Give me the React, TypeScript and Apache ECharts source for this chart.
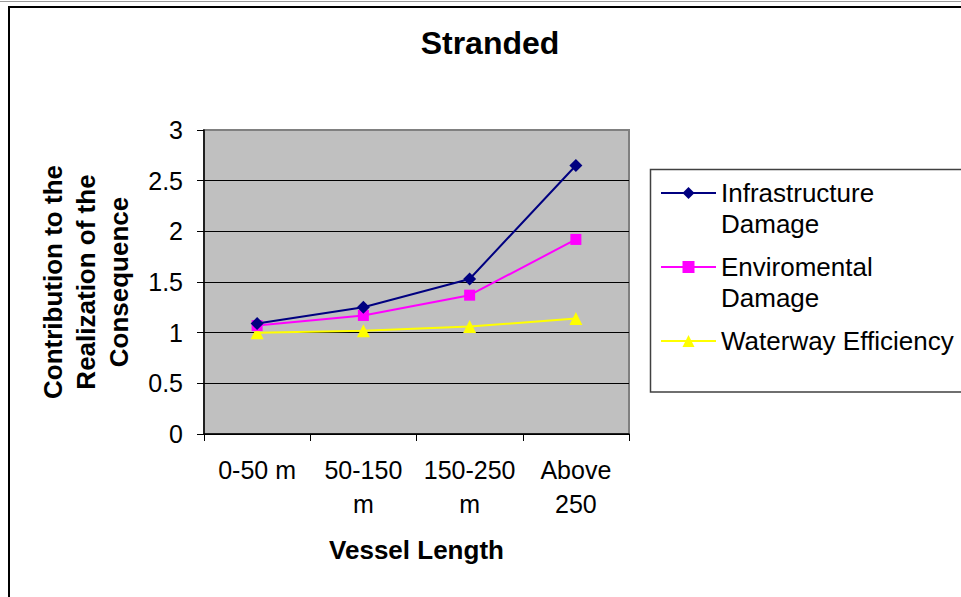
import React, { useEffect, useRef } from "react";
import * as echarts from "echarts";

const titleText = "Stranded";
const categories = ["0-50 m", "50-150\nm", "150-250\nm", "Above\n250"];
const seriesNames = ["Infrastructure\nDamage", "Enviromental\nDamage", "Waterway Efficiency"];
const infrastructure = [1.09, 1.25, 1.53, 2.65];
const environmental = [1.07, 1.17, 1.37, 1.92];
const waterway = [1.0, 1.02, 1.06, 1.14];
const yAxisTitle = "Contribution to the\nRealization of the\nConsequence";
const xAxisTitle = "Vessel Length";

const FONT = "'Liberation Sans', Arial, sans-serif";

export default function App() {
  const ref = useRef<HTMLDivElement>(null);
  useEffect(() => {
    if (!ref.current) return;
    const chart = echarts.init(ref.current, undefined, { renderer: "svg" });
    const colors = ["#000080", "#FF00FF", "#FFFF00"];
    const symbols = ["diamond", "rect", "triangle"];
    const sizes = [13, 11, 13];
    const values = [infrastructure, environmental, waterway];
    const legendIconY = [193, 267, 341];
    chart.setOption({
      animation: false,
      backgroundColor: "#ffffff",
      textStyle: { fontFamily: FONT },
      title: {
        text: titleText,
        left: 490,
        textAlign: "center",
        top: 27,
        padding: 0,
        textStyle: { fontFamily: FONT, fontSize: 32, fontWeight: "bold", color: "#000" },
      },
      graphic: [
        {
          type: "rect",
          shape: { x: 0, y: 1, width: 961, height: 1 },
          style: { fill: "#9a9a9a" },
          silent: true,
        },
        {
          type: "rect",
          shape: { x: 9, y: 7, width: 2000, height: 2000 },
          style: { fill: "none", stroke: "#000", lineWidth: 2 },
          silent: true,
        },
        {
          type: "rect",
          shape: { x: 650.5, y: 169.5, width: 400, height: 222.5 },
          style: { fill: "#fff", stroke: "#404040", lineWidth: 1.5 },
          silent: true,
          z: -1,
        },
      ],
      legend: seriesNames.map((n, i) => {
        const multi = n.indexOf("\n") >= 0;
        const blockH = multi ? 93 : 31;
        return {
          data: [n],
          left: 660,
          top: legendIconY[i] - blockH / 2,
          padding: 0,
          itemWidth: 55,
          itemHeight: 15,
          formatter: (name: string) => (multi ? "\n" + name : name),
          textStyle: {
            fontFamily: FONT,
            fontSize: 26,
            lineHeight: 31,
            color: "#000",
          },
          selectedMode: false,
        };
      }),
      grid: {
        left: 204,
        top: 130,
        width: 425,
        height: 304,
        show: true,
        backgroundColor: "#C0C0C0",
        borderColor: "#808080",
        borderWidth: 2,
      },
      xAxis: {
        type: "category",
        data: categories,
        boundaryGap: true,
        name: xAxisTitle,
        nameLocation: "middle",
        nameGap: 101,
        nameTextStyle: { fontFamily: FONT, fontSize: 26, fontWeight: "bold", color: "#000", lineHeight: 30 },
        axisLine: { lineStyle: { color: "#000", width: 1.5 } },
        axisTick: { show: true, length: 7, lineStyle: { color: "#000" } },
        axisLabel: {
          interval: 0,
          margin: 19,
          fontFamily: FONT,
          fontSize: 25,
          lineHeight: 34,
          color: "#000",
        },
        splitLine: { show: false },
      },
      yAxis: {
        type: "value",
        min: 0,
        max: 3,
        interval: 0.5,
        name: yAxisTitle,
        nameLocation: "middle",
        nameGap: 69,
        nameTextStyle: { fontFamily: FONT, fontSize: 26, fontWeight: "bold", color: "#000", lineHeight: 33 },
        axisLine: { show: true, lineStyle: { color: "#000", width: 1.5 } },
        axisTick: { show: true, length: 7, lineStyle: { color: "#000" } },
        axisLabel: { margin: 21, fontFamily: FONT, fontSize: 25, color: "#000" },
        splitLine: { show: true, showMaxLine: false, lineStyle: { color: "#000", width: 1 } },
      },
      series: seriesNames.map((n, i) => ({
        name: n,
        type: "line",
        data: values[i],
        symbol: symbols[i],
        symbolSize: sizes[i],
        showAllSymbol: true,
        color: colors[i],
        lineStyle: { color: colors[i], width: 2 },
        itemStyle: { color: colors[i] },
        z: 3 - i,
      })),
    });
    return () => chart.dispose();
  }, []);
  return (
    <div
      ref={ref}
      style={{ position: "absolute", left: 0, top: 0, width: 961, height: 597 }}
    />
  );
}
